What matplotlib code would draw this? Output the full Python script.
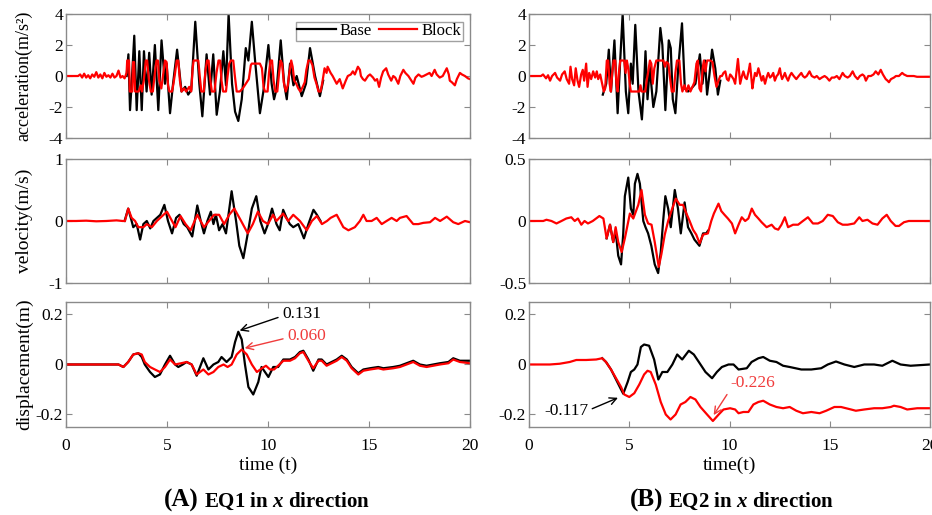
import numpy as np
import matplotlib
matplotlib.use('Agg')
import matplotlib.pyplot as plt

plt.rcParams['font.family'] = ['Liberation Serif', 'DejaVu Serif']
plt.rcParams['axes.unicode_minus'] = False
plt.rcParams['mathtext.fontset'] = 'custom'
plt.rcParams['mathtext.rm'] = 'Liberation Serif'
plt.rcParams['mathtext.it'] = 'Liberation Serif:italic'
plt.rcParams['mathtext.bf'] = 'Liberation Serif:bold'
plt.rcParams['mathtext.bfit'] = 'Liberation Serif:bold:italic'

# ---- EQ1, (time [s], value) samples ----
eq1_acc_base = [
    (3.0, 0.0), (3.09, 1.4), (3.17, -2.2), (3.25, -0.5), (3.38, 2.6), (3.5, -2.2),
    (3.63, 1.6), (3.75, -2.2), (3.86, 1.6), (3.99, -1.0), (4.12, 1.5), (4.24, -1.2),
    (4.4, 2.0), (4.57, -2.2), (4.73, 2.3), (4.9, -0.5), (4.98, 0.8), (5.15, -2.4),
    (5.3, -0.5), (5.5, 1.7), (5.72, -1.0), (5.9, -0.7), (6.05, -1.2), (6.2, -0.9),
    (6.4, 3.5), (6.6, -0.5), (6.75, -2.6), (6.96, 1.4), (7.13, -1.2), (7.29, 1.4),
    (7.46, -2.5), (7.62, -1.0), (7.79, 1.6), (7.92, -0.6), (8.05, 4.0), (8.22, -0.5),
    (8.37, -2.3), (8.53, -2.9), (8.7, -1.5), (8.9, 1.8), (9.03, 1.0), (9.2, 3.5),
    (9.36, 1.0), (9.6, -2.4), (9.77, -1.0), (10.02, 2.0), (10.18, -0.5), (10.3, -1.5),
    (10.43, -0.8), (10.63, 2.3), (10.8, -0.5), (10.93, -1.5), (11.09, 0.8), (11.26, -0.6),
    (11.42, 0.0), (11.67, -1.3), (11.88, -0.5), (12.08, 1.8), (12.33, 0.0), (12.57, -1.3),
    (12.73, -0.3),
]
eq1_acc_block = [
    (0.0, 0.0), (0.6, 0.0), (0.7, 0.1), (0.8, -0.1), (0.9, 0.15), (1.0, -0.1), (1.1, 0.05),
    (1.2, -0.15), (1.3, 0.1), (1.4, -0.05), (1.5, 0.25), (1.6, -0.1), (1.7, 0.1), (1.8, -0.15),
    (1.9, 0.2), (2.0, -0.05), (2.1, 0.05), (2.2, -0.1), (2.3, 0.15), (2.4, -0.1), (2.5, 0.0),
    (2.6, 0.35), (2.7, -0.1), (2.8, 0.0), (2.9, -0.15),
    (3.0, 0.2), (3.03, 1.0), (3.12, 1.0), (3.16, -1.0), (3.28, -1.0), (3.32, 0.9), (3.37, 0.9),
    (3.42, -1.0), (3.6, -1.0), (3.7, -0.6), (3.76, -1.0), (3.85, -0.3), (3.95, 1.0), (4.02, 1.0),
    (4.1, -0.2), (4.2, -1.0), (4.3, -1.0), (4.4, 0.2), (4.48, 1.0), (4.55, 1.0), (4.62, -0.3),
    (4.72, -0.8), (4.82, 0.2), (4.9, 1.0), (4.98, 0.9), (5.05, -0.6), (5.12, -1.0), (5.25, -1.0),
    (5.32, -0.5), (5.4, 0.2), (5.48, 1.0), (5.56, 1.0), (5.64, -0.3), (5.72, -1.0), (5.85, -0.8),
    (5.95, -1.0), (6.1, -0.7), (6.2, -1.0), (6.27, 0.5), (6.32, 1.0), (6.55, 1.0), (6.62, 0.0),
    (6.7, -1.0), (6.82, -1.0), (6.9, 0.3), (6.98, 1.0), (7.06, 1.0), (7.14, -0.2), (7.22, -1.0),
    (7.35, -1.0), (7.45, 0.2), (7.55, 1.0), (7.63, 1.0), (7.7, -0.3), (7.78, -1.0), (7.92, -1.0),
    (8.0, 0.0), (8.08, 0.8), (8.16, 1.0), (8.28, 1.0), (8.36, 0.0), (8.45, -1.0), (8.6, -1.0),
    (8.75, -0.8), (8.9, -0.5), (9.05, -0.2), (9.15, 0.7), (9.2, 0.8), (9.6, 0.8), (9.7, 0.5),
    (9.78, -0.7), (9.85, -1.0), (9.98, -1.0), (10.05, 0.2), (10.12, 1.0), (10.2, 1.0),
    (10.28, -0.3), (10.36, -1.0), (10.46, -1.0), (10.55, 0.2), (10.62, 1.0), (10.7, 0.8),
    (10.78, -0.4), (10.88, -1.0), (10.98, -0.6), (11.08, 0.4), (11.15, 1.0), (11.22, 0.6),
    (11.3, -0.3), (11.4, -0.5), (11.5, -0.8), (11.6, -1.0), (11.72, -0.7), (11.82, -0.4),
    (11.9, 0.4), (12.0, 1.0), (12.1, 1.0), (12.2, 0.7), (12.3, -0.1), (12.4, -0.5), (12.5, -1.0),
    (12.6, -1.0), (12.68, -0.5),
    (12.8, 0.5), (12.9, 0.2), (12.95, 0.6), (13.1, 0.2), (13.2, 0.0), (13.4, -0.5), (13.55, -0.2),
    (13.7, -0.8), (13.85, -0.3), (13.95, 0.0), (14.1, 0.1), (14.2, 0.3), (14.3, 0.1), (14.45, 0.6),
    (14.55, 0.4), (14.6, 0.0), (14.7, -0.2), (14.8, -0.3), (14.95, 0.0), (15.05, 0.1), (15.2, -0.1),
    (15.3, -0.3), (15.4, -0.2), (15.5, -0.7), (15.6, -0.1), (15.7, 0.3), (15.85, 0.5), (15.95, 0.1),
    (16.1, -0.3), (16.2, 0.0), (16.3, -0.1), (16.45, -0.5), (16.55, 0.0), (16.7, 0.4), (16.8, 0.2),
    (16.95, 0.0), (17.05, -0.2), (17.2, -0.5), (17.3, -0.1), (17.45, 0.1), (17.6, -0.05),
    (17.7, 0.0), (17.85, 0.1), (18.0, 0.2), (18.1, 0.0), (18.25, 0.4), (18.35, 0.1), (18.5, -0.1),
    (18.65, 0.0), (18.85, 0.5), (18.95, 0.1), (19.0, -0.3), (19.1, -0.4), (19.25, -0.6),
    (19.35, -0.2), (19.5, 0.2), (19.6, 0.1), (19.75, 0.0), (19.9, -0.15), (20.0, -0.2),
]
eq1_vel_base = [
    (2.9, 0.0), (3.08, 0.2), (3.25, 0.0), (3.33, -0.1), (3.5, -0.05), (3.67, -0.3), (3.83, -0.05),
    (4.0, 0.0), (4.17, -0.12), (4.33, 0.0), (4.5, 0.05), (4.67, 0.1), (4.87, 0.26), (5.05, 0.0),
    (5.25, -0.2), (5.45, 0.05), (5.62, 0.1), (5.83, -0.05), (6.0, -0.1), (6.25, -0.25),
    (6.5, 0.25), (6.67, 0.0), (6.83, -0.2), (7.0, 0.0), (7.17, 0.15), (7.3, -0.05), (7.42, 0.1),
    (7.58, -0.15), (7.75, -0.05), (7.92, -0.2), (8.2, 0.48), (8.42, 0.0), (8.58, -0.4),
    (8.78, -0.6), (9.0, -0.2), (9.2, 0.2), (9.42, 0.4), (9.62, 0.0), (9.83, -0.2), (10.0, -0.05),
    (10.2, 0.2), (10.42, -0.05), (10.58, -0.15), (10.75, 0.18), (10.92, 0.05), (11.08, -0.05),
    (11.25, -0.1), (11.5, -0.05), (11.78, -0.28), (12.0, -0.05), (12.25, 0.18), (12.42, 0.1),
    (12.6, 0.0),
]
eq1_vel_block = [
    (0.0, 0.0), (0.5, 0.0), (1.0, 0.005), (1.5, -0.005), (2.0, 0.0), (2.5, 0.01), (2.8, 0.0),
    (2.92, 0.0), (3.08, 0.2), (3.25, 0.05), (3.42, 0.0), (3.58, -0.1), (3.83, -0.1), (4.0, -0.05),
    (4.25, -0.1), (4.5, 0.0), (4.83, 0.1), (5.0, 0.15), (5.25, 0.0), (5.42, -0.1), (5.67, 0.08),
    (5.92, -0.05), (6.17, -0.15), (6.5, 0.1), (6.83, -0.1), (7.08, 0.0), (7.33, 0.1), (7.58, 0.1),
    (7.83, -0.05), (8.08, 0.1), (8.33, 0.2), (8.67, 0.0), (9.0, -0.2), (9.25, -0.05), (9.5, 0.15),
    (9.75, 0.0), (10.0, -0.05), (10.25, 0.1), (10.42, 0.0), (10.75, 0.12), (11.0, 0.0),
    (11.25, 0.1), (11.58, 0.0), (11.92, -0.15), (12.17, 0.0), (12.42, 0.08), (12.67, -0.05),
    (12.92, 0.0), (13.1, 0.05), (13.4, 0.1), (13.73, -0.1), (13.98, -0.15), (14.3, -0.1),
    (14.55, 0.0), (14.72, 0.1), (14.88, 0.0), (15.13, 0.0), (15.38, 0.05), (15.63, -0.05),
    (15.87, 0.0), (16.12, 0.05), (16.37, 0.0), (16.53, 0.05), (16.86, 0.08), (17.19, -0.05),
    (17.44, -0.05), (17.69, -0.03), (18.02, -0.02), (18.27, 0.05), (18.52, 0.0), (18.85, 0.07),
    (19.17, -0.02), (19.42, -0.05), (19.75, 0.0), (20.0, -0.02),
]
eq1_dis_base = [
    (0.0, 0.0), (2.6, 0.0), (2.84, -0.01), (3.08, 0.01), (3.33, 0.04), (3.58, 0.045),
    (3.75, 0.03), (3.9, 0.0), (4.16, -0.03), (4.4, -0.05), (4.65, -0.04), (4.9, 0.0),
    (5.15, 0.035), (5.4, 0.0), (5.56, -0.01), (5.78, 0.0), (5.97, 0.01), (6.22, 0.0),
    (6.47, -0.045), (6.8, 0.025), (7.05, -0.02), (7.3, 0.0), (7.54, 0.01), (7.7, 0.03),
    (7.95, 0.01), (8.2, 0.03), (8.37, 0.09), (8.53, 0.131), (8.7, 0.1), (8.86, 0.0),
    (9.03, -0.09), (9.27, -0.12), (9.52, -0.07), (9.68, -0.01), (9.85, -0.03), (10.02, -0.05),
    (10.26, -0.01), (10.5, -0.01), (10.76, 0.02), (11.09, 0.02), (11.34, 0.03), (11.58, 0.05),
    (11.75, 0.055), (12.0, 0.02), (12.24, -0.025), (12.5, 0.02), (12.66, 0.02), (12.9, 0.0),
    (13.15, 0.01), (13.4, 0.02), (13.65, 0.035), (13.9, 0.02), (14.14, -0.01), (14.47, -0.035),
    (14.72, -0.02), (15.05, -0.015), (15.46, -0.01), (15.71, -0.015), (16.2, -0.01),
    (16.53, -0.005), (16.86, 0.005), (17.19, 0.015), (17.52, 0.0), (17.85, -0.005), (18.18, 0.0),
    (18.51, 0.005), (18.93, 0.01), (19.17, 0.025), (19.5, 0.015), (20.0, 0.015),
]
eq1_dis_block = [
    (0.0, 0.0), (2.6, 0.0), (2.84, -0.01), (3.08, 0.01), (3.33, 0.04), (3.58, 0.045),
    (3.75, 0.04), (3.9, 0.01), (4.16, -0.01), (4.4, -0.02), (4.65, -0.03), (4.9, -0.01),
    (5.15, 0.02), (5.4, 0.0), (5.7, 0.005), (5.97, 0.01), (6.22, 0.0), (6.47, -0.04),
    (6.8, -0.02), (7.05, -0.04), (7.3, -0.03), (7.54, -0.01), (7.8, 0.0), (8.0, -0.01),
    (8.2, 0.0), (8.45, 0.04), (8.7, 0.06), (8.95, 0.04), (9.2, 0.0), (9.45, -0.03),
    (9.7, -0.015), (9.9, -0.005), (10.1, -0.02), (10.3, -0.02), (10.5, -0.005), (10.76, 0.015),
    (11.09, 0.015), (11.34, 0.025), (11.58, 0.045), (11.75, 0.05), (12.0, 0.015),
    (12.24, -0.015), (12.5, 0.015), (12.66, 0.015), (12.9, -0.005), (13.15, 0.005),
    (13.4, 0.015), (13.65, 0.03), (13.9, 0.015), (14.14, -0.015), (14.47, -0.04), (14.72, -0.025),
    (15.05, -0.02), (15.46, -0.015), (15.71, -0.02), (16.2, -0.015), (16.53, -0.01),
    (16.86, 0.0), (17.19, 0.01), (17.52, -0.005), (17.85, -0.01), (18.18, -0.005),
    (18.51, 0.0), (18.93, 0.005), (19.17, 0.02), (19.5, 0.01), (20.0, 0.005),
]

# ---- EQ2 ----
eq2_acc_base = [
    (3.68, -1.2), (3.85, -0.5), (3.98, 1.7), (4.09, -1.0), (4.26, 2.3), (4.42, -2.4),
    (4.54, 0.8), (4.67, 4.0), (4.83, -1.0), (4.95, -2.4), (5.08, 0.8), (5.17, -0.5),
    (5.3, 3.3), (5.46, -1.0), (5.63, -2.8), (5.74, -0.5), (5.81, 1.6), (5.91, -1.5),
    (6.02, 0.6), (6.2, -2.0), (6.35, -1.0), (6.55, 3.1), (6.65, 2.0), (6.8, -2.2),
    (6.97, 2.3), (7.07, 1.8), (7.17, -1.5), (7.3, -2.4), (7.44, 0.5), (7.63, 3.4),
    (7.77, -0.8), (7.93, -1.0), (8.1, -0.8), (8.3, -0.5), (8.52, 1.4), (8.65, -0.5),
    (8.78, 1.0), (8.88, -1.2), (8.99, 0.0), (9.13, 1.7), (9.29, 0.5), (9.42, -1.2),
    (9.54, -0.3),
]
eq2_acc_block = [
    (0.0, 0.0), (0.6, 0.0), (0.7, 0.1), (0.85, -0.15), (0.95, 0.05), (1.05, -0.3), (1.15, 0.0),
    (1.3, 0.2), (1.4, -0.1), (1.55, -0.3), (1.65, 0.1), (1.78, 0.3), (1.88, -0.2), (2.0, -0.5),
    (2.07, 0.6), (2.15, -0.2), (2.25, -0.6), (2.33, 0.5), (2.42, -0.3), (2.5, -0.7), (2.6, 0.1),
    (2.68, 0.4), (2.75, -0.3), (2.85, 0.8), (2.92, -0.7), (3.0, 0.2), (3.1, -0.2), (3.2, 0.3),
    (3.3, -0.1), (3.38, 0.3), (3.45, -0.2), (3.55, 0.1), (3.65, -0.5),
    (3.73, -1.0), (3.8, -0.8), (3.88, 1.0), (3.95, 1.0), (4.02, -0.5), (4.08, -1.0), (4.15, 0.2),
    (4.22, 1.0), (4.3, 1.0), (4.36, -0.5), (4.42, -1.0), (4.48, 0.2), (4.55, 1.0), (4.75, 1.0),
    (4.82, 0.2), (4.88, 1.0), (4.95, 0.5), (5.02, -0.5), (5.08, -1.0), (5.5, -1.0), (5.56, -0.6),
    (5.62, -1.0), (5.8, -1.0), (5.88, -0.2), (5.95, 0.3), (6.03, 1.0), (6.1, 0.8), (6.17, -0.5),
    (6.25, 0.5), (6.35, 1.0), (6.7, 1.0), (6.78, 0.6), (6.85, 0.9), (6.95, 0.8), (7.05, -0.3),
    (7.12, -1.0), (7.22, -1.0), (7.3, 0.2), (7.38, 1.0), (7.5, 1.0), (7.58, -0.5), (7.65, -1.0),
    (7.75, -0.6), (7.85, -1.0), (7.95, -0.6), (8.05, -1.0), (8.15, -0.7), (8.25, -0.4),
    (8.35, 0.8), (8.42, 1.0), (8.5, -0.8), (8.58, -1.0), (8.66, 0.5), (8.72, 1.0), (8.8, 0.3),
    (8.88, 1.0), (9.05, 1.0), (9.15, 0.9), (9.25, 0.0), (9.35, -0.7), (9.45, -0.3),
    (9.54, 0.0), (9.62, 0.0), (9.7, 0.2), (9.79, 0.3), (9.87, -0.2), (9.95, -0.3), (10.03, 0.1),
    (10.1, 0.0), (10.2, -0.2), (10.28, -0.5), (10.35, 0.3), (10.42, 1.1), (10.48, 0.2),
    (10.53, -0.5), (10.62, 0.0), (10.69, 0.3), (10.78, -0.1), (10.86, -0.2), (10.95, 0.3),
    (11.02, 0.8), (11.08, 0.0), (11.14, -0.8), (11.2, -0.3), (11.27, 0.2), (11.35, 0.0),
    (11.44, 0.5), (11.52, 0.1), (11.6, -0.3), (11.68, 0.0), (11.77, -0.5), (11.85, -0.1),
    (11.93, 0.2), (12.02, -0.1), (12.1, 0.0), (12.18, 0.2), (12.26, -0.3), (12.35, 0.0),
    (12.42, 0.1), (12.51, 0.5), (12.56, 0.1), (12.62, -0.2), (12.7, 0.0), (12.76, 0.2),
    (12.84, -0.1), (12.92, -0.3), (13.0, 0.0), (13.09, 0.2), (13.2, 0.0), (13.33, -0.2),
    (13.45, 0.0), (13.58, 0.2), (13.66, 0.0), (13.75, -0.1), (13.85, 0.0), (13.99, 0.3),
    (14.1, 0.0), (14.24, -0.1), (14.35, 0.0), (14.49, -0.2), (14.6, -0.1), (14.74, 0.0),
    (14.85, -0.1), (14.98, -0.3), (15.1, -0.1), (15.23, -0.1), (15.35, 0.0), (15.48, -0.2),
    (15.56, 0.0), (15.64, 0.2), (15.75, 0.0), (15.89, -0.1), (16.0, 0.0), (16.14, 0.3),
    (16.25, 0.0), (16.39, -0.2), (16.5, 0.0), (16.63, 0.1), (16.72, 0.0), (16.8, -0.3),
    (16.92, 0.0), (17.05, 0.0), (17.18, 0.1), (17.29, 0.3), (17.42, 0.1), (17.54, 0.4),
    (17.65, 0.1), (17.79, -0.2), (17.88, -0.3), (17.95, -0.4), (18.05, -0.2), (18.2, -0.1),
    (18.3, 0.0), (18.45, 0.0), (18.61, 0.2), (18.7, 0.1), (18.86, 0.0), (19.0, 0.0),
    (19.19, 0.0), (19.35, -0.05), (19.52, -0.05), (19.7, -0.05), (20.0, -0.05),
]
eq2_vel_base = [
    (3.87, -0.14), (4.04, -0.03), (4.2, -0.17), (4.32, -0.08), (4.45, -0.28), (4.59, -0.35),
    (4.7, -0.1), (4.78, 0.2), (4.95, 0.35), (5.08, 0.1), (5.2, 0.05), (5.28, 0.3), (5.41, 0.38),
    (5.53, 0.3), (5.7, 0.0), (5.81, -0.05), (5.94, -0.1), (6.1, -0.2), (6.27, -0.35),
    (6.44, -0.42), (6.57, -0.25), (6.69, 0.0), (6.8, 0.2), (6.94, 0.1), (7.07, -0.05),
    (7.27, 0.25), (7.43, 0.1), (7.57, -0.1), (7.76, 0.15), (7.93, -0.05), (8.1, -0.1),
    (8.25, -0.15), (8.5, -0.2), (8.68, -0.1), (8.84, -0.1), (8.92, -0.08),
]
eq2_vel_block = [
    (0.0, 0.0), (0.71, 0.0), (0.87, 0.01), (1.12, 0.0), (1.37, -0.02), (1.62, 0.0), (1.86, 0.02),
    (2.11, 0.03), (2.28, 0.0), (2.44, 0.02), (2.61, -0.03), (2.77, 0.0), (2.94, -0.02),
    (3.18, 0.0), (3.51, 0.04), (3.71, 0.02), (3.87, -0.14), (4.04, -0.03), (4.2, -0.17),
    (4.32, -0.05), (4.45, -0.17), (4.62, -0.25), (4.78, -0.14), (5.03, 0.06), (5.2, 0.02),
    (5.45, 0.13), (5.61, 0.25), (5.78, 0.05), (5.94, -0.02), (6.11, -0.03), (6.27, -0.17),
    (6.47, -0.37), (6.6, -0.27), (6.77, -0.11), (6.94, 0.0), (7.1, 0.08), (7.32, 0.18),
    (7.52, 0.13), (7.68, 0.13), (7.85, 0.06), (8.01, 0.0), (8.18, -0.07), (8.34, -0.11),
    (8.51, -0.18), (8.68, -0.11), (8.92, -0.1), (9.09, 0.0), (9.22, 0.06), (9.45, 0.14),
    (9.59, 0.08), (9.75, 0.05), (9.92, 0.02), (10.12, -0.02), (10.28, -0.1), (10.45, -0.03),
    (10.61, 0.03), (10.78, 0.0), (10.94, 0.02), (11.11, 0.1), (11.27, 0.05), (11.44, 0.02),
    (11.6, -0.01), (11.85, -0.05), (12.1, -0.03), (12.26, -0.06), (12.43, -0.07),
    (12.59, -0.03), (12.76, 0.03), (12.92, -0.05), (13.17, -0.03), (13.42, -0.03), (13.66, 0.0),
    (13.91, 0.03), (14.16, -0.02), (14.41, -0.02), (14.65, 0.0), (14.9, 0.05), (15.15, 0.04),
    (15.4, -0.01), (15.64, -0.03), (15.89, -0.03), (16.22, -0.02), (16.47, 0.03), (16.63, 0.0),
    (16.88, 0.01), (17.13, -0.02), (17.38, -0.03), (17.62, 0.02), (17.84, 0.05), (18.04, 0.0),
    (18.28, -0.04), (18.45, -0.04), (18.7, -0.01), (18.94, 0.0), (19.27, 0.0), (20.0, 0.0),
]
eq2_dis_base = [
    (3.65, 0.025), (3.84, 0.01), (4.09, -0.02), (4.34, -0.06), (4.59, -0.1), (4.7, -0.117),
    (4.92, -0.07), (5.08, -0.03), (5.25, -0.02), (5.41, 0.0), (5.58, 0.07), (5.74, 0.08),
    (5.99, 0.075), (6.24, 0.02), (6.45, -0.06), (6.65, -0.03), (6.9, -0.03), (7.15, 0.0),
    (7.39, 0.04), (7.64, 0.02), (7.97, 0.055), (8.22, 0.04), (8.47, 0.01), (8.8, -0.03),
    (9.13, -0.055), (9.37, -0.03), (9.62, -0.01), (9.95, 0.0), (10.2, 0.0), (10.45, -0.02),
    (10.86, -0.015), (11.1, 0.01), (11.44, 0.025), (11.68, 0.03), (12.01, 0.015),
    (12.34, 0.01), (12.67, -0.005), (13.0, -0.01), (13.58, -0.02), (14.08, -0.02),
    (14.57, -0.015), (14.9, 0.0), (15.31, 0.012), (15.73, 0.0), (16.22, -0.01), (16.72, 0.0),
    (17.21, 0.0), (17.62, -0.005), (18.12, 0.015), (18.53, 0.0), (19.03, -0.005), (20.0, 0.0),
]
eq2_dis_block = [
    (0.0, 0.0), (1.04, 0.0), (1.53, 0.003), (2.03, 0.01), (2.36, 0.018), (2.85, 0.018),
    (3.35, 0.02), (3.65, 0.025), (3.84, 0.01), (4.09, -0.02), (4.34, -0.055), (4.59, -0.09),
    (4.75, -0.12), (5.0, -0.13), (5.25, -0.115), (5.5, -0.08), (5.74, -0.04), (5.91, -0.025),
    (6.07, -0.03), (6.32, -0.08), (6.57, -0.15), (6.82, -0.2), (7.06, -0.22), (7.31, -0.2),
    (7.56, -0.16), (7.8, -0.15), (8.05, -0.13), (8.3, -0.14), (8.55, -0.17), (8.88, -0.2),
    (9.17, -0.226), (9.46, -0.2), (9.7, -0.18), (10.03, -0.175), (10.28, -0.18),
    (10.45, -0.195), (10.69, -0.19), (10.94, -0.19), (11.19, -0.16), (11.44, -0.15),
    (11.68, -0.145), (12.01, -0.16), (12.34, -0.17), (12.67, -0.175), (13.0, -0.17),
    (13.33, -0.185), (13.66, -0.195), (14.08, -0.19), (14.49, -0.195), (14.82, -0.185),
    (15.23, -0.17), (15.56, -0.17), (16.06, -0.18), (16.3, -0.185), (16.72, -0.18),
    (17.21, -0.175), (17.62, -0.175), (18.04, -0.17), (18.2, -0.165), (18.53, -0.17),
    (18.86, -0.18), (19.36, -0.175), (20.0, -0.175),
]

row_labels = ['acceleration(m/s²)', 'velocity(m/s)', 'displacement(m)']
ylims_eq1 = [(-4, 4), (-1, 1), (-0.25, 0.25)]
ylims_eq2 = [(-4, 4), (-0.5, 0.5), (-0.25, 0.25)]
yticks_eq1 = [[-4, -2, 0, 2, 4], [-1, 0, 1], [-0.2, 0, 0.2]]
ytick_labels_eq1 = [['-4', '-2', '0', '2', '4'], ['-1', '0', '1'], ['-0.2', '0', '0.2']]
yticks_eq2 = [[-4, -2, 0, 2, 4], [-0.5, 0, 0.5], [-0.2, 0, 0.2]]
ytick_labels_eq2 = [['-4', '-2', '0', '2', '4'], ['-0.5', '0', '0.5'], ['-0.2', '0', '0.2']]
xticks = [0, 5, 10, 15, 20]


def xy(pairs):
    arr = np.array(pairs, dtype=float)
    return arr[:, 0], arr[:, 1]


GREY = '#8a8a8a'
RED = '#ff0000'
RED_TXT = '#f03c3c'
TICK_FS = 12.5
LABEL_FS = [13, 14, 14]

fig = plt.figure(figsize=(9.32, 5.15), dpi=100)
col_x = [0.0708, 0.5676]
col_w = [0.4335, 0.4303]
row_y = [0.732, 0.4505, 0.1709]
row_h = [0.2408, 0.2408, 0.2427]

columns = [
    ([eq1_acc_base, eq1_vel_base, eq1_dis_base],
     [eq1_acc_block, eq1_vel_block, eq1_dis_block], ylims_eq1, yticks_eq1, ytick_labels_eq1),
    ([eq2_acc_base, eq2_vel_base, eq2_dis_base],
     [eq2_acc_block, eq2_vel_block, eq2_dis_block], ylims_eq2, yticks_eq2, ytick_labels_eq2),
]

axes = [[None] * 3 for _ in range(2)]
for c, (bases, blocks, ylims, yt, ytl) in enumerate(columns):
    for r in range(3):
        ax = fig.add_axes([col_x[c], row_y[r], col_w[c], row_h[r]])
        axes[c][r] = ax
        tb, vb = xy(bases[r])
        tk, vk = xy(blocks[r])
        ax.plot(tb, vb, color='black', lw=1.6, label='Base')
        ax.plot(tk, vk, color=RED, lw=1.6, label='Block')
        ax.set_xlim(0, 20)
        ax.set_ylim(*ylims[r])
        ax.set_xticks(xticks)
        ax.set_yticks(yt[r])
        ax.set_yticklabels(ytl[r])
        ax.tick_params(direction='in', top=True, right=True, length=4, width=0.8,
                       color=GREY, labelsize=TICK_FS, pad=2, labelbottom=(r == 2))
        ax.tick_params(axis='x', pad=8)
        for s in ax.spines.values():
            s.set_color(GREY)
            s.set_linewidth(1.0)
        if c == 0:
            ax.set_ylabel(row_labels[r], fontsize=LABEL_FS[r])
            ax.yaxis.set_label_coords(-0.082, 0.5)

axes[0][2].set_xlabel('time (t)', fontsize=14, labelpad=2)
axes[1][2].set_xlabel('time(t)', fontsize=14, labelpad=2)

leg = axes[0][0].legend(loc='upper right', ncol=2, fontsize=12, frameon=True, fancybox=False,
                        handlelength=2.3, handletextpad=0.25, columnspacing=0.4,
                        borderpad=0.1, borderaxespad=0.45)
leg.get_frame().set_edgecolor(GREY)
leg.get_frame().set_linewidth(1.0)

# peak annotations
ax = axes[0][2]
ax.annotate('0.131', xy=(8.53, 0.134), xytext=(10.7, 0.2), fontsize=TICK_FS, color='black',
            va='center', ha='left',
            arrowprops=dict(arrowstyle='->', color='black', lw=1.0, relpos=(0, 0.4),
                            shrinkA=1, shrinkB=1))
ax.annotate('0.060', xy=(8.78, 0.064), xytext=(10.95, 0.113), fontsize=TICK_FS, color=RED_TXT,
            va='center', ha='left',
            arrowprops=dict(arrowstyle='->', color=RED_TXT, lw=1.0, relpos=(0, 0.4),
                            shrinkA=1, shrinkB=1))
ax = axes[1][2]
ax.annotate('-0.117', xy=(4.5, -0.131), xytext=(0.75, -0.187), fontsize=TICK_FS, color='black',
            va='center', ha='left',
            arrowprops=dict(arrowstyle='->', color='black', lw=1.0, relpos=(1, 0.55),
                            shrinkA=1, shrinkB=1))
ax.annotate('-0.226', xy=(9.17, -0.207), xytext=(10.05, -0.076), fontsize=TICK_FS, color=RED_TXT,
            va='center', ha='left',
            arrowprops=dict(arrowstyle='->', color=RED_TXT, lw=1.0, relpos=(0, 0.15),
                            shrinkA=1, shrinkB=1))

# captions
cap_y = 1 - 507 / 515
fig.text(199 / 932, cap_y, '(A)', fontsize=18, fontweight='bold', ha='right', va='baseline')
fig.text(204 / 932, cap_y, r'EQ1 in $\mathbfit{x}$ direction', fontsize=15, fontweight='bold',
         ha='left', va='baseline')
fig.text(663 / 932, cap_y, '(B)', fontsize=18, fontweight='bold', ha='right', va='baseline')
fig.text(668 / 932, cap_y, r'EQ2 in $\mathbfit{x}$ direction', fontsize=15, fontweight='bold',
         ha='left', va='baseline')

fig.savefig('out.png', dpi=100)
